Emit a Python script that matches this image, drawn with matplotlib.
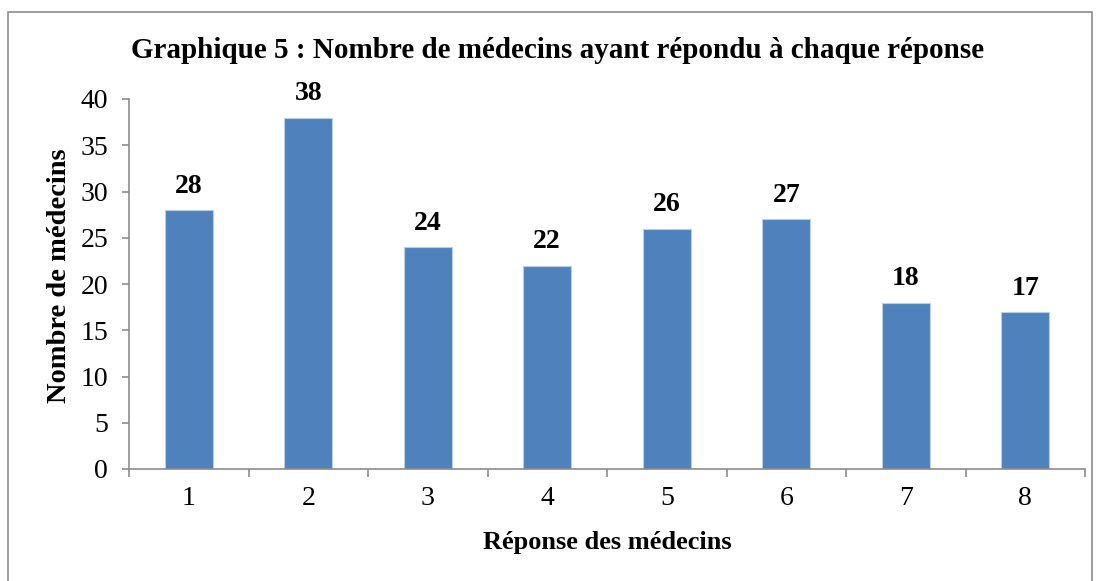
import matplotlib.pyplot as plt
from matplotlib.patches import Rectangle

# data
categories = ["1", "2", "3", "4", "5", "6", "7", "8"]
values = [28, 38, 24, 22, 26, 27, 18, 17]

title = "Graphique 5 : Nombre de médecins ayant répondu à chaque réponse"
xlabel = "Réponse des médecins"
ylabel = "Nombre de médecins"

plt.rcParams["font.family"] = ["Liberation Serif", "DejaVu Serif"]

W, H = 1101, 581
fig = plt.figure(figsize=(W / 100, H / 100), dpi=100)

# outer frame like the office chart box
fig.patches.append(Rectangle((8 / W, -0.05), (1092 - 8) / W, 1.05 - 12 / H,
                             transform=fig.transFigure, fill=False,
                             edgecolor="#8c8c8c", linewidth=1.2))

ax = fig.add_axes([129 / W, 1 - 469 / H, (1085 - 129) / W, (469 - 99) / H])

pos = list(range(len(categories)))
ax.bar(pos, values, width=0.4, color="#4F81BD", edgecolor="#B9CDE5", linewidth=0.8)

for x, v in zip(pos, values):
    ax.annotate(str(v), (x, v), xytext=(0, 8), textcoords="offset points",
                ha="center", va="bottom", fontsize=20, fontweight="bold")

ax.set_xlim(-0.5, len(categories) - 0.5)
ax.set_ylim(0, 40)
ax.set_yticks(range(0, 41, 5))
ax.set_xticks(pos)
ax.set_xticklabels(categories)
ax.set_xticks([p - 0.5 for p in range(len(categories) + 1)], minor=True)
ax.tick_params(axis="x", which="major", length=0, labelsize=20, pad=12)
ax.tick_params(axis="x", which="minor", length=6, width=1.2, color="#8c8c8c")
ax.tick_params(axis="y", length=5, width=1.2, color="#8c8c8c", labelsize=20, pad=10)

for s in ["top", "right"]:
    ax.spines[s].set_visible(False)
for s in ["left", "bottom"]:
    ax.spines[s].set_color("#8c8c8c")
    ax.spines[s].set_linewidth(1.2)

fig.text(558 / W, 1 - 50 / H, title, ha="center", va="center",
         fontsize=21, fontweight="bold")
fig.text(607 / W, 1 - 543 / H, xlabel, ha="center", va="center",
         fontsize=19, fontweight="bold")
fig.text(60 / W, 1 - 276 / H, ylabel, ha="center", va="center",
         rotation=90, fontsize=20.5, fontweight="bold")

fig.savefig("out.png", dpi=100)
